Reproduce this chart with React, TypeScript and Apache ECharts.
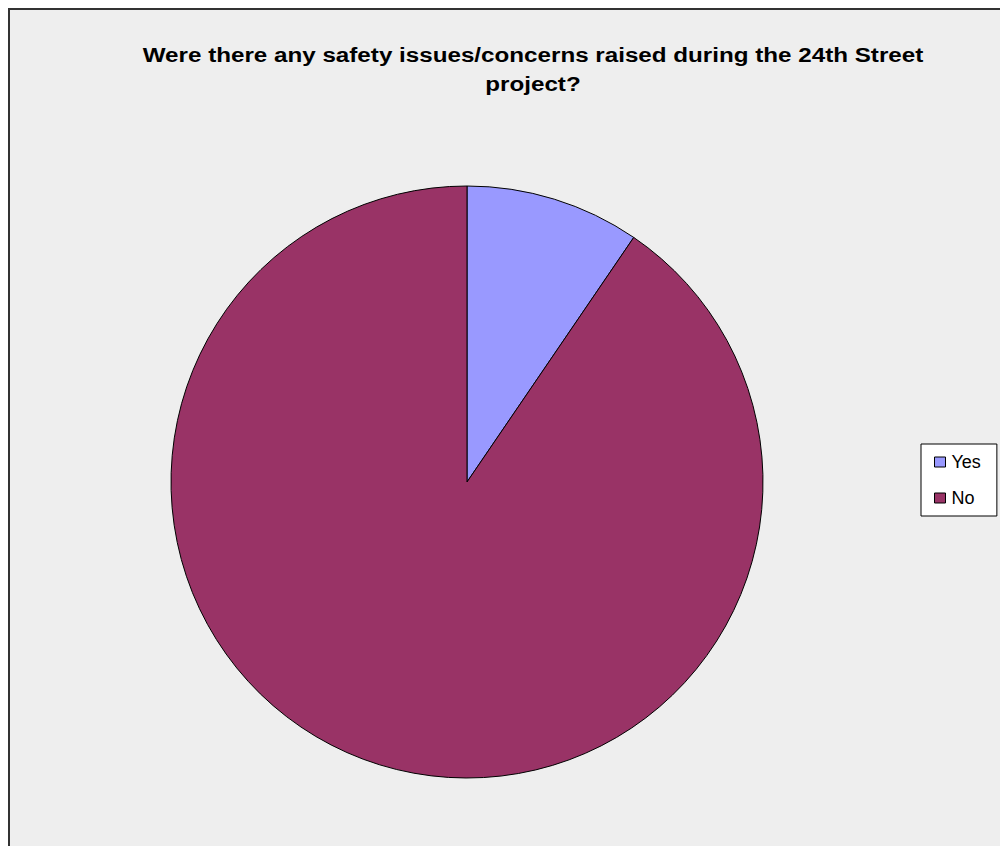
import React, { useEffect, useRef } from "react";
import * as echarts from "echarts";

const categories = ["Yes", "No"];
const values = [2, 19];
const colors = ["#9999FF", "#993366"];
const titleText =
  "Were there any safety issues/concerns raised during the 24th Street\nproject?";

export default function App() {
  const ref = useRef<HTMLDivElement>(null);
  useEffect(() => {
    if (!ref.current) return;
    const chart = echarts.init(ref.current, null, { renderer: "svg" });
    chart.setOption({
      animation: false,
      backgroundColor: "#FFFFFF",
      graphic: [
        {
          type: "rect",
          z: -10,
          silent: true,
          shape: { x: 9, y: 9, width: 1100, height: 1000 },
          style: { fill: "#EEEEEE", stroke: "#333333", lineWidth: 2 },
        },
        {
          type: "text",
          x: 533,
          y: 41,
          scaleX: 1.21,
          z: 10,
          style: {
            text: titleText,
            align: "center",
            verticalAlign: "top",
            font: 'bold 20px "Liberation Sans", Arial, sans-serif',
            lineHeight: 29,
            fill: "#000000",
          },
        },
      ],
      legend: {
        orient: "vertical",
        left: 921,
        top: 444,
        data: categories,
        backgroundColor: "#FFFFFF",
        borderColor: "#000000",
        borderWidth: 1,
        borderRadius: 0,
        padding: [9, 16, 9, 13],
        itemGap: 18,
        itemWidth: 11,
        itemHeight: 10,
        icon: "rect",
        selectedMode: false,
        itemStyle: { borderColor: "#000000", borderWidth: 1 },
        textStyle: {
          fontFamily: '"Liberation Sans", Arial, sans-serif',
          fontSize: 18,
          color: "#000000",
          padding: [0, 0, 0, 1],
        },
      },
      series: [
        {
          type: "pie",
          center: [467, 482],
          radius: 296,
          startAngle: 90,
          clockwise: true,
          label: { show: false },
          labelLine: { show: false },
          emphasis: { disabled: true },
          itemStyle: { borderColor: "#000000", borderWidth: 1 },
          data: categories.map((c, i) => ({
            name: c,
            value: values[i],
            itemStyle: { color: colors[i] },
          })),
        },
      ],
    });
    return () => chart.dispose();
  }, []);
  return (
    <div
      ref={ref}
      style={{ position: "absolute", left: 0, top: 0, width: 1000, height: 846 }}
    />
  );
}
